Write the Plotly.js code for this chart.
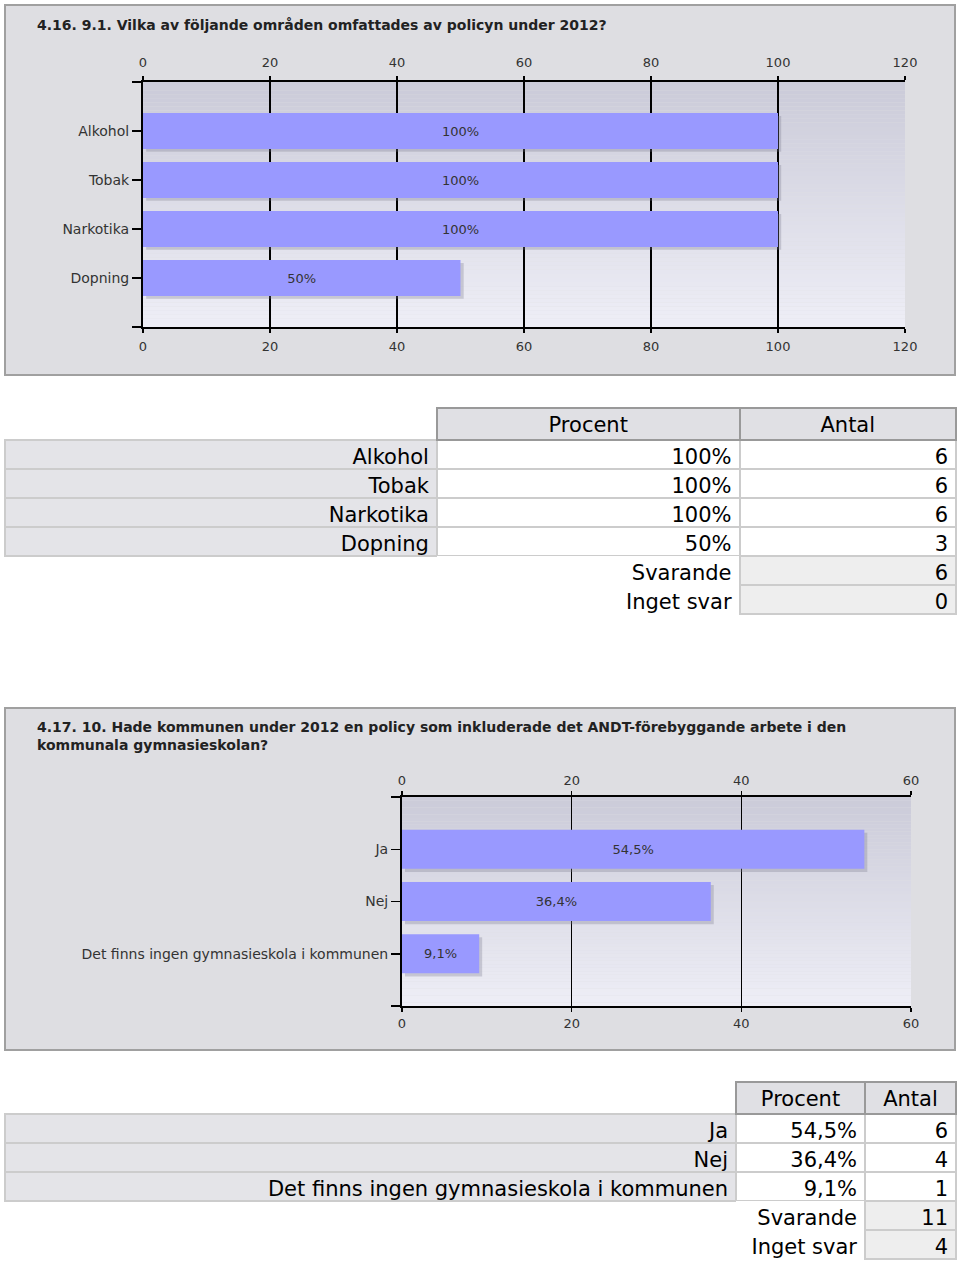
<!DOCTYPE html>
<html>
<head>
<meta charset="utf-8">
<script src="https://cdn.plot.ly/plotly-3.0.1.min.js"></script>
<style>
html,body{margin:0;padding:0;background:#fff;}
#chart{width:960px;height:1265px;}
</style>
</head>
<body>
<div id="chart"></div>
<script>
// ---------- data ----------
const title1 = "4.16. 9.1. Vilka av följande områden omfattades av policyn under 2012?";
const categories1 = ["Alkohol", "Tobak", "Narkotika", "Dopning"];
const percent1 = [100, 100, 100, 50];
const percentLabels1 = ["100%", "100%", "100%", "50%"];
const counts1 = [6, 6, 6, 3];
const answered1 = 6;
const noAnswer1 = 0;

const title2 = "4.17. 10. Hade kommunen under 2012 en policy som inkluderade det ANDT-förebyggande arbete i den<br>kommunala gymnasieskolan?";
const categories2 = ["Ja", "Nej", "Det finns ingen gymnasieskola i kommunen"];
const percent2 = [54.5, 36.4, 9.1];
const percentLabels2 = ["54,5%", "36,4%", "9,1%"];
const counts2 = [6, 4, 1];
const answered2 = 11;
const noAnswer2 = 4;

const headerLabels = ["", "Procent", "Antal"];
const summaryLabels = ["Svarande", "Inget svar"];

// ---------- helpers ----------
const W = 960, H = 1265;
const px = p => p / W;
const py = p => 1 - p / H;
const FONT = "DejaVu Sans";
const BAR = "#9999ff";
const nb = s => String(s).replace(/ /g, "\u00a0");

function lerp(a, b, t) { return Math.round(a + (b - a) * t); }
function gradient(xref, yref, x0, x1, yTop, yBot, n, cTop, cBot) {
  const out = [];
  for (let i = 0; i < n; i++) {
    const t = i / (n - 1);
    const c = `rgb(${lerp(cTop[0], cBot[0], t)},${lerp(cTop[1], cBot[1], t)},${lerp(cTop[2], cBot[2], t)})`;
    out.push({type: "rect", xref, yref, layer: "below",
      x0, x1, y0: yTop + (yBot - yTop) * i / n, y1: yTop + (yBot - yTop) * (i + 1) / n,
      fillcolor: c, line: {width: 0}});
  }
  return out;
}

const idx1 = categories1.map((_, i) => i);
const idx2 = categories2.map((_, i) => i);

const axisCommon = {
  showline: true, linecolor: "#000", linewidth: 2,
  ticks: "outside", ticklen: 4, tickcolor: "#000", tickwidth: 1.5,
  tickfont: {family: FONT, size: 13, color: "#333"},
  zeroline: false, fixedrange: true, tick0: 0, dtick: 20
};
const yCommon = {
  showline: true, linecolor: "#000", linewidth: 2,
  ticks: "outside", ticklen: 9, tickcolor: "#000", tickwidth: 1.5, showgrid: false, zeroline: false,
  tickfont: {family: FONT, size: 14, color: "#333"}, fixedrange: true
};

const traces = [
  // chart 1 shadow + bars
  {type: "bar", orientation: "h", x: percent1, base: 0.5, y: idx1.map(i => i + 0.06), width: 0.73,
   xaxis: "x", yaxis: "y", marker: {color: "rgba(120,120,140,0.3)"}, hoverinfo: "skip"},
  {type: "bar", orientation: "h", x: percent1, y: idx1, width: 0.73,
   xaxis: "x2", yaxis: "y", marker: {color: BAR},
   text: percentLabels1, textposition: "inside", insidetextanchor: "middle", textangle: 0,
   textfont: {family: FONT, size: 13, color: "#333"}},
  // chart 2 shadow + bars
  {type: "bar", orientation: "h", x: percent2, base: 0.35, y: idx2.map(i => i + 0.06), width: 0.75,
   xaxis: "x3", yaxis: "y2", marker: {color: "rgba(120,120,140,0.3)"}, hoverinfo: "skip"},
  {type: "bar", orientation: "h", x: percent2, y: idx2, width: 0.75,
   xaxis: "x4", yaxis: "y2", marker: {color: BAR},
   text: percentLabels2, textposition: "inside", insidetextanchor: "middle", textangle: 0,
   textfont: {family: FONT, size: 13, color: "#333"}}
];

function makeTable(cats, labels, counts, answered, noAnswer, domainX, domainY, colW) {
  const n = cats.length;
  const col1 = cats.map(nb).concat(["", ""]);
  const col2 = labels.concat(summaryLabels.map(nb));
  const col3 = counts.concat([answered, noAnswer]);
  const clear = "rgba(0,0,0,0)";
  const border = "#cccccc";
  const fill1 = col1.map((_, i) => i < n ? "#e4e4e8" : clear);
  const fill2 = col2.map(() => "#ffffff");
  const fill3 = col3.map((_, i) => i < n ? "#ffffff" : "#eeeeee");
  const line1 = col1.map((_, i) => i < n ? border : clear);
  const line2 = col2.map((_, i) => i < n ? border : clear);
  const line3 = col3.map(() => border);
  return {
    type: "table", domain: {x: domainX, y: domainY}, columnwidth: colW,
    header: {values: headerLabels, align: "center", height: 32,
      fill: {color: [clear, "#e0e0e4", "#e0e0e4"]},
      line: {color: [clear, "#999999", "#999999"], width: 2},
      font: {family: FONT, size: 21, color: "#000"}},
    cells: {values: [col1, col2, col3], align: "right", height: 29,
      fill: {color: [fill1, fill2, fill3]},
      line: {color: [line1, line2, line3], width: 2},
      font: {family: FONT, size: 21, color: "#000"}}
  };
}

traces.push(makeTable(categories1, percentLabels1, counts1, answered1, noAnswer1,
  [px(5), px(956)], [py(618), py(408)], [431, 302, 216]));
traces.push(makeTable(categories2, percentLabels2, counts2, answered2, noAnswer2,
  [px(5), px(956)], [py(1263), py(1082)], [731, 129, 91]));

const shapes = [
  {type: "rect", xref: "paper", yref: "paper", layer: "below",
   x0: px(5), x1: px(955), y0: py(5), y1: py(375), fillcolor: "#dedee2", line: {color: "#a0a0a0", width: 2}},
  {type: "rect", xref: "paper", yref: "paper", layer: "below",
   x0: px(5), x1: px(955), y0: py(708), y1: py(1050), fillcolor: "#dedee2", line: {color: "#a0a0a0", width: 2}}
].concat(
  gradient("x", "y", 0, 120, -1, 4, 60, [203, 203, 217], [238, 238, 246]),
  gradient("x3", "y2", 0, 60, -1, 3, 60, [203, 203, 217], [238, 238, 246])
);

const layout = {
  width: W, height: H, margin: {l: 0, r: 0, t: 0, b: 0},
  paper_bgcolor: "#ffffff", plot_bgcolor: "rgba(0,0,0,0)",
  showlegend: false, barmode: "overlay",
  font: {family: FONT, color: "#333"},
  xaxis: Object.assign({}, axisCommon, {domain: [px(143), px(905)], range: [0, 120], anchor: "y", side: "bottom",
    showgrid: true, gridcolor: "#000", gridwidth: 1.6, ticklabelstandoff: 2}),
  xaxis2: Object.assign({}, axisCommon, {overlaying: "x", matches: "x", anchor: "y", side: "top",
    showgrid: false, ticklabelstandoff: 4}),
  yaxis: Object.assign({}, yCommon, {domain: [py(327), py(82)], anchor: "x", range: [4, -1],
    tickvals: [-1].concat(idx1, [categories1.length]), ticktext: [""].concat(categories1, [""])}),
  xaxis3: Object.assign({}, axisCommon, {domain: [px(402), px(911)], range: [0, 60], anchor: "y2", side: "bottom",
    showgrid: true, gridcolor: "#000", gridwidth: 1.6, ticklabelstandoff: 0}),
  xaxis4: Object.assign({}, axisCommon, {overlaying: "x3", matches: "x3", anchor: "y2", side: "top",
    showgrid: false, ticklabelstandoff: 1}),
  yaxis2: Object.assign({}, yCommon, {domain: [py(1006), py(797)], anchor: "x3", range: [3, -1],
    tickvals: [-1].concat(idx2, [categories2.length]), ticktext: [""].concat(categories2, [""])}),
  shapes: shapes,
  annotations: [
    {xref: "paper", yref: "paper", x: px(35), y: py(25), xanchor: "left", yanchor: "middle",
     text: "<b>" + title1 + "</b>", showarrow: false, align: "left",
     font: {family: FONT, size: 14, color: "#222"}},
    {xref: "paper", yref: "paper", x: px(35), y: py(736), xanchor: "left", yanchor: "middle",
     text: "<b>" + title2.replace("<br>", "</b><br><b>") + "</b>", showarrow: false, align: "left",
     font: {family: FONT, size: 14, color: "#222"}}
  ]
};

Plotly.newPlot("chart", traces, layout, {staticPlot: true, displayModeBar: false});
</script>
</body>
</html>
